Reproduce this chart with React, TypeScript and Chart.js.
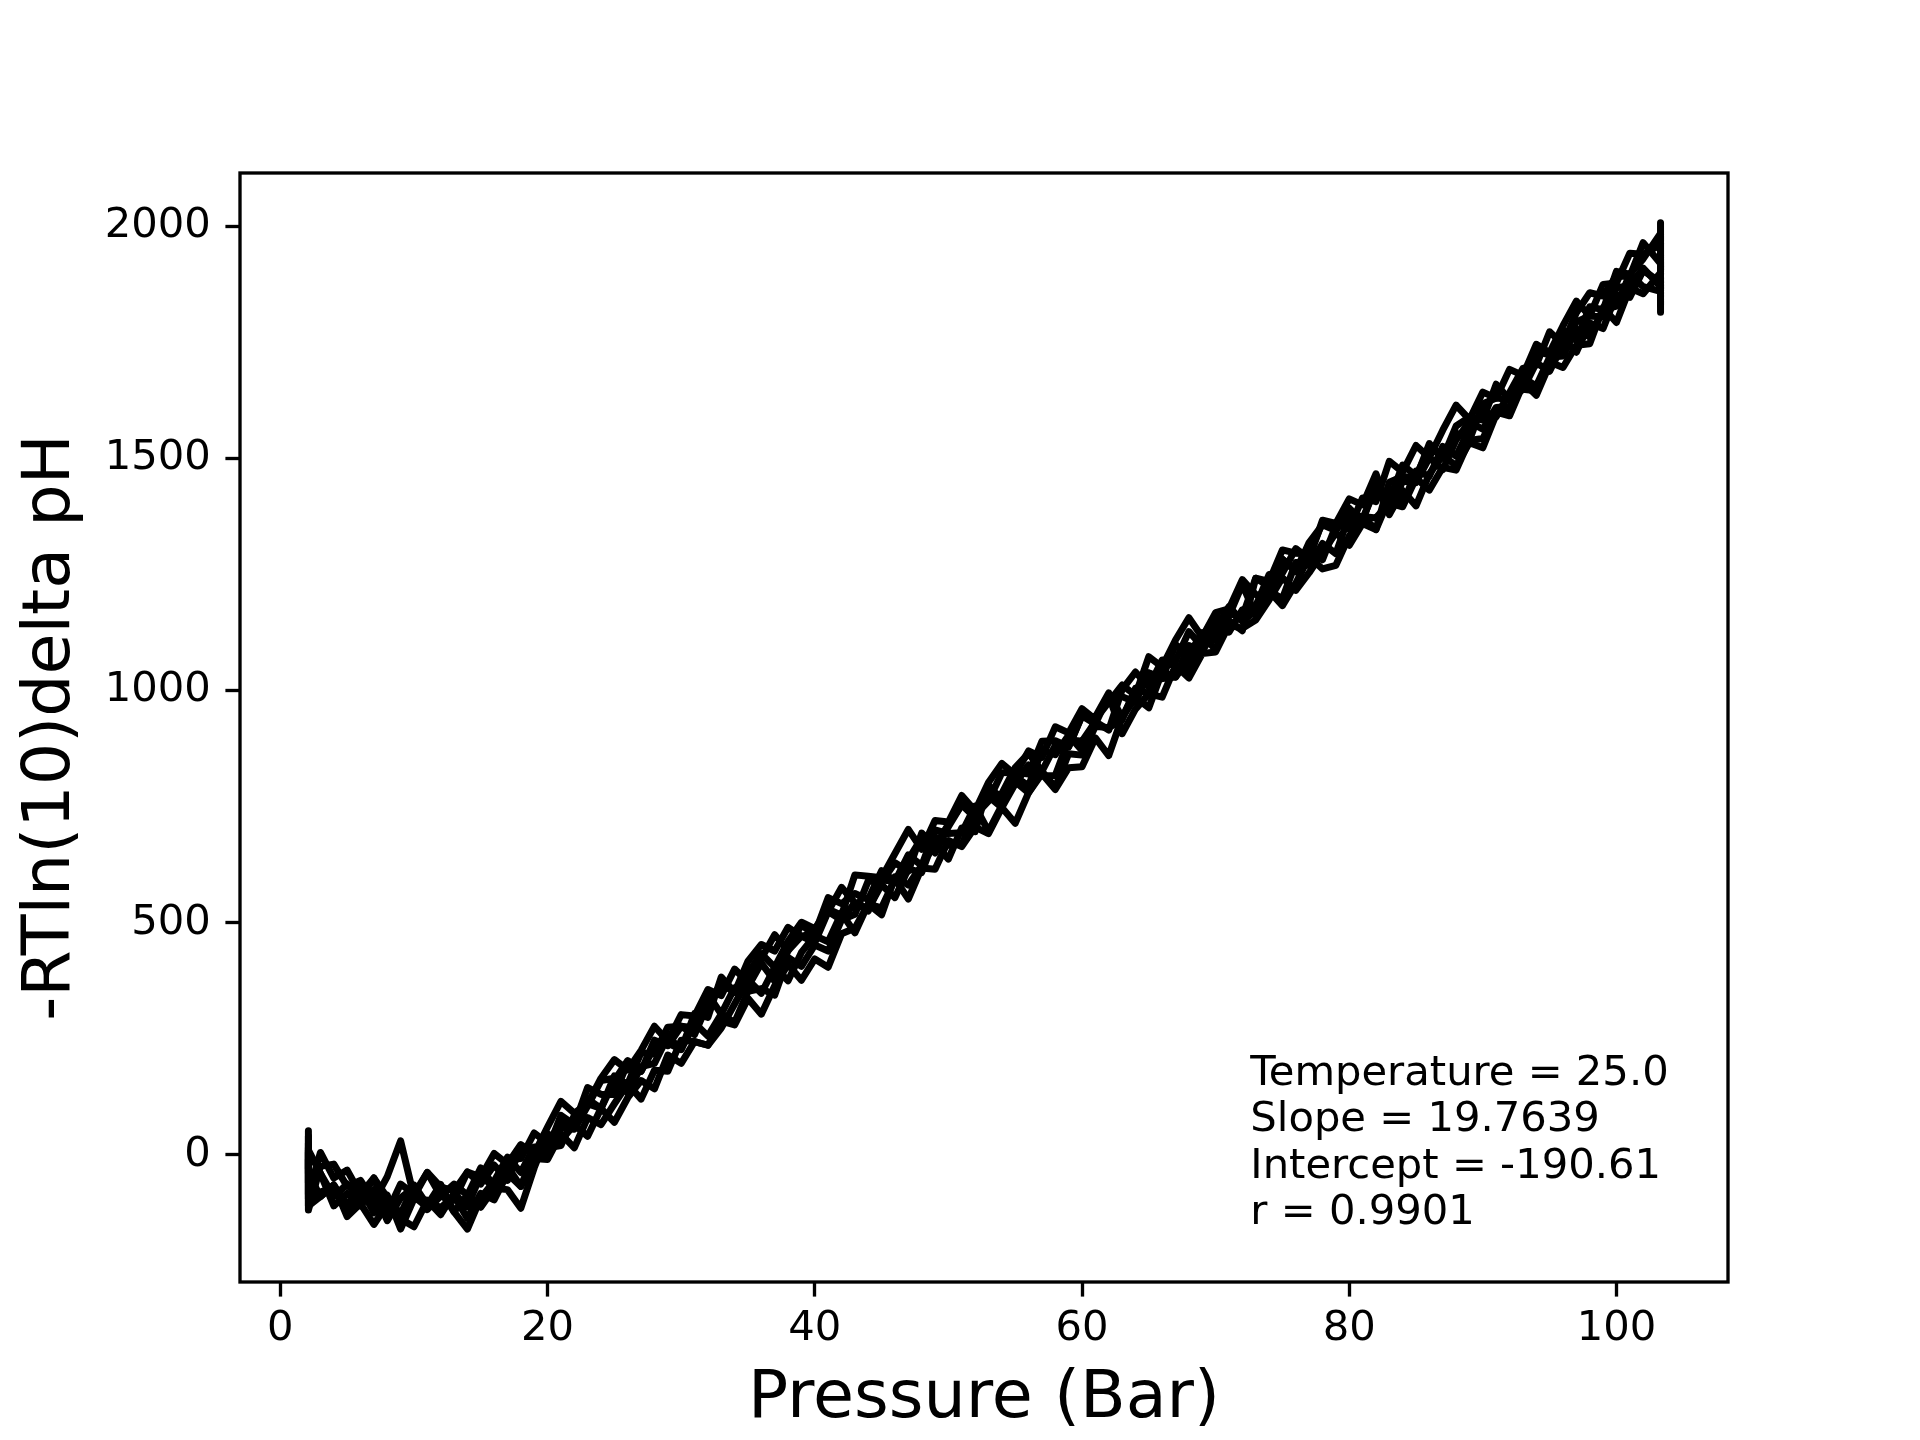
import React, { useEffect, useRef } from "react";
import { Chart, registerables } from "chart.js";

Chart.register(...registerables);

// pressure readings (Bar), shared by all runs
const pressure = [
  2.1, 2.1,
  3, 4, 5, 6, 7, 8, 9, 10, 11, 12,
  13, 14, 15, 16, 17, 18, 19, 20, 21, 22,
  23, 24, 25, 26, 27, 28, 29, 30, 31, 32,
  33, 34, 35, 36, 37, 38, 39, 40, 41, 42,
  43, 44, 45, 46, 47, 48, 49, 50, 51, 52,
  53, 54, 55, 56, 57, 58, 59, 60, 61, 62,
  63, 64, 65, 66, 67, 68, 69, 70, 71, 72,
  73, 74, 75, 76, 77, 78, 79, 80, 81, 82,
  83, 84, 85, 86, 87, 88, 89, 90, 91, 92,
  93, 94, 95, 96, 97, 98, 99, 100, 101, 102,
  103.3, 103.3,
];

// -RT ln(10) delta pH for each run
const runA = [
  40, -85,
  5, -50, -33, -85, -50, -125, -63, -85, -38, -69,
  -78, -37, -48, 3, -20, 22, 2, 60, 115, 90,
  110, 165, 205, 183, 225, 277, 245, 302, 299, 356,
  343, 400, 372, 423, 474, 440, 496, 472, 524, 576,
  543, 525, 592, 589, 646, 623, 700, 692, 694, 751,
  697, 753, 804, 780, 826, 792, 864, 861, 923, 920,
  937, 1005, 993, 1061, 1054, 1042, 1115, 1163, 1126, 1174,
  1182, 1250, 1253, 1306, 1284, 1367, 1360, 1348, 1415, 1407,
  1494, 1471, 1528, 1502, 1561, 1615, 1584, 1643, 1630, 1692,
  1679, 1746, 1728, 1786, 1839, 1807, 1875, 1878, 1942, 1940,
  1960, 2008,
];
const runB = [
  5, -110,
  -90, -65, -133, -105, -150, -107, -138, -155, -98, -114,
  -88, -137, -83, -97, -40, -68, -8, -10, 45, 15,
  80, 65, 110, 153, 120, 182, 180, 247, 244, 236,
  288, 280, 337, 303, 364, 410, 376, 422, 404, 476,
  488, 540, 517, 599, 581, 623, 670, 637, 704, 696,
  797, 763, 814, 795, 871, 862, 904, 871, 938, 975,
  1012, 990, 1073, 1051, 1109, 1157, 1115, 1168, 1176, 1239,
  1207, 1200, 1283, 1261, 1314, 1282, 1355, 1393, 1365, 1447,
  1379, 1431, 1398, 1467, 1506, 1485, 1534, 1523, 1595, 1602,
  1664, 1636, 1703, 1756, 1729, 1792, 1780, 1853, 1847, 1905,
  1880, 1815,
];
const runC = [
  25, -60,
  -40, -90, -63, -95, -50, -92, -128, -65, -108, -64,
  -123, -160, -93, -57, -5, -38, 17, 15, 20, 85,
  110, 100, 160, 203, 180, 232, 240, 227, 304, 296,
  383, 350, 392, 433, 404, 460, 501, 487, 529, 516,
  603, 600, 597, 649, 701, 658, 720, 717, 774, 741,
  802, 843, 819, 870, 856, 922, 909, 961, 938, 990,
  987, 975, 1038, 1026, 1029, 1097, 1085, 1133, 1181, 1149,
  1172, 1215, 1183, 1231, 1289, 1262, 1270, 1333, 1375, 1347,
  1414, 1401, 1473, 1462, 1526, 1505, 1564, 1603, 1590, 1642,
  1694, 1701, 1773, 1746, 1814, 1857, 1850, 1893, 1892, 1965,
  1920, 1850,
];
const runD = [
  52, -40,
  -90, -65, -108, -70, -115, -87, -160, -95, -98, -129,
  -83, -112, -43, -72, -75, -115, -28, 45, 30, 65,
  40, 100, 70, 123, 160, 142, 215, 197, 244, 236,
  273, 325, 377, 348, 404, 375, 436, 472, 459, 521,
  478, 540, 532, 594, 551, 618, 615, 677, 664, 706,
  692, 748, 714, 780, 821, 787, 834, 836, 898, 860,
  942, 985, 963, 1041, 1029, 1067, 1120, 1088, 1151, 1129,
  1242, 1225, 1283, 1256, 1319, 1357, 1345, 1383, 1370, 1437,
  1409, 1486, 1463, 1522, 1506, 1555, 1539, 1618, 1630, 1627,
  1649, 1646, 1708, 1696, 1744, 1747, 1825, 1793, 1867, 1855,
  1900, 1965,
];
const runE = [
  -10, -119,
  -25, -20, -68, -55, -100, -47, 30, -90, -38, -89,
  -63, -87, -28, -67, -10, -8, 47, 25, 70, 65,
  145, 130, 130, 198, 180, 247, 235, 277, 259, 326,
  368, 350, 417, 453, 439, 490, 471, 477, 554, 541,
  563, 550, 612, 589, 636, 683, 650, 707, 754, 736,
  772, 778, 834, 865, 826, 882, 879, 946, 928, 990,
  907, 960, 993, 986, 1054, 1027, 1080, 1083, 1141, 1134,
  1152, 1195, 1243, 1216, 1254, 1297, 1340, 1313, 1360, 1347,
  1449, 1461, 1458, 1532, 1501, 1570, 1589, 1583, 1660, 1627,
  1649, 1706, 1688, 1746, 1794, 1807, 1805, 1868, 1872, 1910,
  1870, 1830,
];
const runF = [
  -30, 10,
  -40, -110, -83, -110, -75, -142, -93, -70, -118, -89,
  -98, -37, -63, -22, -55, 17, 12, 10, 85, 65,
  120, 100, 170, 133, 190, 197, 255, 227, 284, 256,
  303, 285, 352, 358, 344, 425, 406, 452, 439, 506,
  518, 590, 587, 629, 611, 693, 665, 712, 754, 726,
  772, 748, 799, 840, 816, 817, 894, 891, 933, 915,
  1002, 1040, 1008, 1066, 1064, 1127, 1095, 1153, 1161, 1229,
  1162, 1215, 1198, 1276, 1269, 1317, 1295, 1378, 1375, 1372,
  1404, 1396, 1458, 1432, 1481, 1475, 1539, 1543, 1600, 1592,
  1659, 1731, 1723, 1776, 1754, 1827, 1820, 1903, 1897, 1930,
  1985, 1900,
];
const runG = [
  15, -95,
  -80, -70, -123, -70, -125, -107, -143, -90, -113, -79,
  -123, -87, -113, -72, -25, -68, 2, 0, 60, 55,
  105, 160, 165, 153, 220, 217, 275, 277, 274, 346,
  303, 360, 362, 413, 374, 440, 471, 457, 524, 506,
  543, 530, 582, 554, 616, 608, 685, 667, 669, 731,
  762, 823, 824, 820, 891, 892, 879, 946, 943, 995,
  942, 1000, 1038, 1026, 1099, 1077, 1125, 1108, 1166, 1159,
  1242, 1235, 1303, 1296, 1294, 1362, 1360, 1413, 1400, 1467,
  1389, 1451, 1448, 1502, 1476, 1540, 1579, 1563, 1610, 1612,
  1674, 1656, 1718, 1721, 1779, 1762, 1820, 1828, 1897, 1870,
  1860, 1940,
];

const runs = [runA, runB, runC, runD, runE, runF, runG];

const xTicks = [0, 20, 40, 60, 80, 100];
const yTicks = [0, 500, 1000, 1500, 2000];

const fitLines = [
  "Temperature = 25.0",
  "Slope = 19.7639",
  "Intercept = -190.61",
  "r = 0.9901",
];

const FONT = "'DejaVu Sans', sans-serif";

// frame round the plot area plus the fit summary
const framePlugin = {
  id: "frame",
  afterDatasetsDraw(chart: any) {
    const { ctx, chartArea } = chart;
    ctx.save();
    ctx.strokeStyle = "#000";
    ctx.lineWidth = 3.33;
    ctx.strokeRect(
      chartArea.left,
      chartArea.top,
      chartArea.right - chartArea.left,
      chartArea.bottom - chartArea.top
    );
    ctx.restore();
  },
  afterDraw(chart: any) {
    const { ctx, chartArea } = chart;
    const w = chartArea.right - chartArea.left;
    const h = chartArea.bottom - chartArea.top;
    ctx.save();
    ctx.fillStyle = "#000";
    ctx.font = `41.7px ${FONT}`;
    ctx.textAlign = "left";
    ctx.textBaseline = "alphabetic";
    const x0 = chartArea.left + w * 0.679;
    const y0 = chartArea.top + h * 0.822;
    fitLines.forEach((t, i) => ctx.fillText(t, x0, y0 + i * 46.5));
    ctx.restore();
  },
};

const App = () => {
  const ref = useRef<HTMLCanvasElement | null>(null);

  useEffect(() => {
    if (!ref.current) return;

    const datasets = runs.map((run, i) => ({
      label: `run ${i + 1}`,
      data: run.map((v, j) => ({ x: pressure[j], y: v })),
      borderColor: "#000000",
      borderWidth: 7,
      borderJoinStyle: "round" as const,
      borderCapStyle: "round" as const,
      pointRadius: 0,
      tension: 0,
      fill: false,
    }));

    const chart = new Chart(ref.current, {
      type: "line",
      data: { datasets },
      options: {
        animation: false,
        responsive: false,
        devicePixelRatio: 1,
        layout: { padding: { left: 0, top: 173, right: 192, bottom: 0 } },
        plugins: {
          legend: { display: false },
          tooltip: { enabled: false },
        },
        scales: {
          x: {
            type: "linear",
            min: -3.02,
            max: 108.35,
            afterBuildTicks: (s: any) => {
              s.ticks = xTicks.map((v) => ({ value: v }));
            },
            afterFit: (s: any) => {
              s.height = 158;
            },
            grid: {
              display: true,
              drawOnChartArea: false,
              drawTicks: true,
              tickLength: 14.6,
              tickColor: "#000",
              tickWidth: 3.33,
            },
            border: { display: false },
            ticks: {
              color: "#000",
              font: { family: FONT, size: 41.7 },
              padding: 8,
              maxRotation: 0,
              autoSkip: false,
              callback: (v: any) => String(v),
            },
            title: {
              display: true,
              text: "Pressure (Bar)",
              color: "#000",
              font: { family: FONT, size: 66.7 },
              padding: { top: 0, bottom: 0.5 },
            },
          },
          y: {
            type: "linear",
            min: -274,
            max: 2115,
            afterBuildTicks: (s: any) => {
              s.ticks = yTicks.map((v) => ({ value: v }));
            },
            afterFit: (s: any) => {
              s.width = 240;
            },
            grid: {
              display: true,
              drawOnChartArea: false,
              drawTicks: true,
              tickLength: 14.6,
              tickColor: "#000",
              tickWidth: 3.33,
            },
            border: { display: false },
            ticks: {
              color: "#000",
              font: { family: FONT, size: 41.7 },
              padding: 14.6,
              autoSkip: false,
              callback: (v: any) => String(v),
            },
            title: {
              display: true,
              text: "-RTln(10)delta pH",
              color: "#000",
              font: { family: FONT, size: 66.7 },
              padding: { top: 12, bottom: 0 },
            },
          },
        },
      },
      plugins: [framePlugin],
    });

    return () => {
      chart.destroy();
    };
  }, []);

  return (
    <div style={{ position: "fixed", left: 0, top: 0, width: 1920, height: 1440, background: "#fff" }}>
      <canvas ref={ref} width={1920} height={1440} style={{ width: 1920, height: 1440 }} />
    </div>
  );
};

export default App;
